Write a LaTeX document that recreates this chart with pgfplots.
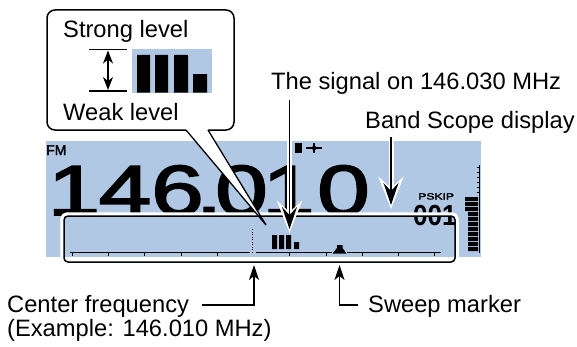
\documentclass[border=0pt]{standalone}
\usepackage{pgfplots}
\pgfplotsset{compat=1.18}
\usepackage{fontspec}
\setmainfont{Liberation Sans}
\newfontfamily\lcdfont{Liberation Sans}[FakeBold=2.2]
\usetikzlibrary{arrows.meta}
\definecolor{lcd}{RGB}{176,200,228}
\tikzset{lbl/.style={anchor=base west, inner sep=0pt, font=\fontsize{23.7bp}{28bp}\selectfont},
  dig/.style={anchor=base, inner sep=0pt, font=\lcdfont\fontsize{71bp}{80bp}\selectfont, xscale=1.33}}
\begin{document}
\begin{tikzpicture}
\begin{axis}[
  width=577bp, height=347bp, scale only axis,
  xmin=0, xmax=577, ymin=0, ymax=347, y dir=reverse,
  hide axis, clip=false, unbounded coords=jump,
]
\coordinate (bbA) at (axis cs:0,0);
\coordinate (bbB) at (axis cs:577,347);

% ---- callout box
\draw[line width=1.5bp, rounded corners=8bp, fill=white] (axis cs:47,10) rectangle (axis cs:234,130);
\node[lbl] at (axis cs:63,37) {Strong level};
\node[lbl] at (axis cs:63,120) {Weak level};
\draw[line width=1.3bp] (axis cs:89,49.5) -- (axis cs:127,49.5);
\draw[line width=1.3bp] (axis cs:89,91) -- (axis cs:127,91);
\draw[line width=1.3bp, {Stealth[length=13bp,width=10bp,inset=4bp]}-{Stealth[length=13bp,width=10bp,inset=4bp]}] (axis cs:108,50.5) -- (axis cs:108,90);
% level bars in callout
\addplot[fill=lcd, draw=none] coordinates {(132,49) (212,49) (212,93.3) (132,93.3)};
\addplot[fill=black, draw=none] coordinates {
 (137,55) (150,55) (150,92.7) (137,92.7) (137,nan)
 (155,55) (168,55) (168,92.7) (155,92.7) (155,nan)
 (174,55) (188,55) (188,92.7) (174,92.7) (174,nan)
 (193,74) (207,74) (207,92.7) (193,92.7)};

% ---- LCD background
\addplot[fill=lcd, draw=none] coordinates {(46,141) (481,141) (481,256.5) (46,256.5)};
\node[anchor=base west, inner sep=0pt, font=\lcdfont\fontsize{14bp}{16bp}\selectfont] at (axis cs:46,155) {FM};
% big frequency digits
\node[dig] at (axis cs:74,215) {1};
\node[dig] at (axis cs:125,215) {4};
\node[dig] at (axis cs:177.5,215) {6};
\node[dig] at (axis cs:209,215) {.};
\node[dig] at (axis cs:241.5,215) {0};
\node[dig] at (axis cs:288.5,215) {1};
\node[dig] at (axis cs:343.5,215) {0};
% small icons
\fill (axis cs:295,143) rectangle (axis cs:302,153);
\draw[line width=1.2bp] (axis cs:306,148) -- (axis cs:322,148);
\draw[line width=1.2bp] (axis cs:314,143) -- (axis cs:314,153);
\fill (axis cs:314,145) -- (axis cs:317,148) -- (axis cs:314,151) -- (axis cs:311,148) -- cycle;
% PSKIP and channel
\node[anchor=base west, inner sep=0pt, font=\lcdfont\fontsize{9bp}{10bp}\selectfont, xscale=1.35] at (axis cs:418,199.5) {PSKIP};
\node[anchor=base west, inner sep=0pt, font=\fontsize{29bp}{30bp}\selectfont\bfseries, xscale=0.9] at (axis cs:413,225.5) {001};
% S-meter
\draw[line width=1bp] (axis cs:479,165) -- (axis cs:479,253);
\addplot[black, line width=0.8bp] coordinates {
 (476.5,167) (479,167) (476.5,nan) (476.5,172) (479,172) (476.5,nan)
 (476.5,177) (479,177) (476.5,nan) (476.5,182) (479,182) (476.5,nan)
 (476.5,187) (479,187) (476.5,nan) (476.5,192) (479,192)};
\addplot[fill=black, draw=none] coordinates {
 (465,197) (478,197) (478,201) (465,201) (465,nan)
 (465,202) (478,202) (478,206) (465,206) (465,nan)
 (465,207) (478,207) (478,211) (465,211) (465,nan)
 (468,212) (478,212) (478,216) (468,216) (468,nan)
 (468,217) (478,217) (478,221) (468,221) (468,nan)
 (468,222) (478,222) (478,226) (468,226) (468,nan)
 (468,227) (478,227) (478,231) (468,231) (468,nan)
 (468,232) (478,232) (478,236) (468,236) (468,nan)
 (468,237) (478,237) (478,241) (468,241) (468,nan)
 (468,242) (478,242) (478,246) (468,246) (468,nan)
 (468,247) (478,247) (478,251) (468,251)};

% ---- band scope box
\draw[white, line width=3.5bp, rounded corners=5bp] (axis cs:62,214) rectangle (axis cs:457,264);
\draw[black, line width=1.5bp, rounded corners=4bp] (axis cs:64,216) rectangle (axis cs:455,262);
% baseline
\addplot[black, line width=1.3bp] coordinates {(70,252.5) (250,252.5) (250,nan) (256,252.5) (332,252.5) (332,nan) (347,252.5) (441,252.5)};
% ticks
\addplot[black, line width=1bp] coordinates {
 (72,252.5) (72,256) (72,nan) (108,252.5) (108,256) (108,nan)
 (144,252.5) (144,256) (144,nan) (181,252.5) (181,256) (181,nan)
 (217,252.5) (217,256) (217,nan) (289,252.5) (289,256) (289,nan)
 (326,252.5) (326,256) (326,nan) (362,252.5) (362,256) (362,nan)
 (398,252.5) (398,256) (398,nan) (434,252.5) (434,256)};
% centre frequency dotted line
\addplot[black, line width=1.2bp, dash pattern=on 1bp off 1.5bp] coordinates {(252.7,229) (252.7,253)};
% signal bars
\addplot[fill=black, draw=none] coordinates {
 (272,235) (277,235) (277,249) (272,249) (272,nan)
 (279,235) (284,235) (284,249) (279,249) (279,nan)
 (286,235) (291,235) (291,249) (286,249) (286,nan)
 (294,242) (299,242) (299,249) (294,249)};
% sweep marker
\addplot[fill=black, draw=none] coordinates {(337,245) (342.5,245) (342.5,248) (346.5,253.5) (332.5,253.5) (337,248)};

% ---- callout pointer
\fill[white] (axis cs:186,129) -- (axis cs:266,225) -- (axis cs:208,129) -- cycle;
\draw[white, line width=2.5bp] (axis cs:187,130) -- (axis cs:207,130);
\draw[line width=1.3bp] (axis cs:186,130) -- (axis cs:266,225) -- (axis cs:208,130);

% ---- arrows with white outline
\draw[white, line width=5bp, -{Stealth[length=32bp,width=25bp,inset=11bp]}] (axis cs:289.5,141) -- (axis cs:289.5,233);
\draw[black, line width=1.5bp, -{Stealth[length=22bp,width=15bp,inset=8bp]}] (axis cs:289.5,100) -- (axis cs:289.5,229);
\draw[white, line width=5bp, -{Stealth[length=32bp,width=25bp,inset=11bp]}] (axis cs:391,141) -- (axis cs:391,209);
\draw[black, line width=1.5bp, -{Stealth[length=22bp,width=15bp,inset=8bp]}] (axis cs:391,137) -- (axis cs:391,205);

% ---- bottom arrows
\draw[line width=1.5bp, -{Stealth[length=15bp,width=10bp,inset=4bp]}] (axis cs:202,305) -- (axis cs:254,305) -- (axis cs:254,265);
\draw[line width=1.5bp, -{Stealth[length=15bp,width=10bp,inset=4bp]}] (axis cs:358,305) -- (axis cs:339.5,305) -- (axis cs:339.5,265);

% ---- labels
\node[lbl] at (axis cs:271,89) {The signal on 146.030 MHz};
\node[lbl] at (axis cs:365,128) {Band Scope display};
\node[lbl] at (axis cs:7,312) {Center frequency};
\node[lbl] at (axis cs:7,336) {(Example: 146.010 MHz)};
\node[lbl] at (axis cs:368,312) {Sweep marker};
\end{axis}
\pgfresetboundingbox
\path[use as bounding box] (bbA) rectangle (bbB);
\end{tikzpicture}
\end{document}
